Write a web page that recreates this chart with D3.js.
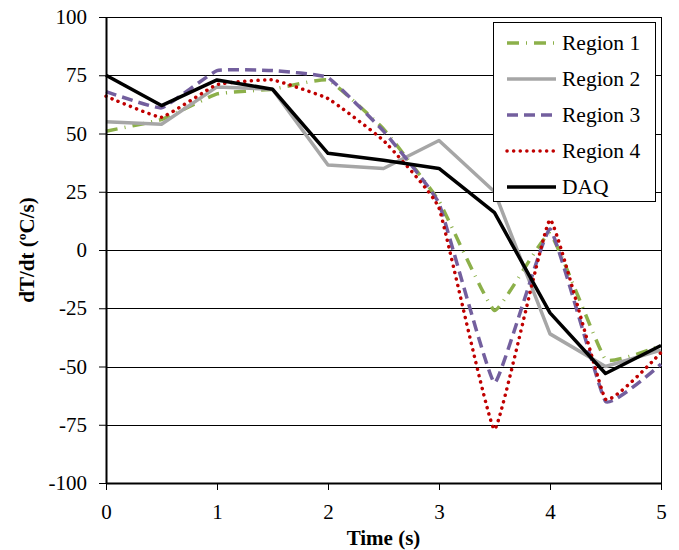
<!DOCTYPE html>
<html><head><meta charset="utf-8">
<script src="https://cdn.jsdelivr.net/npm/d3@7"></script>
<style>body{margin:0;background:#fff} svg text{font-family:"Liberation Serif","Times New Roman",Times,serif}</style>
</head><body>
<script>
const times = [0,0.5,1,1.5,2,2.5,3,3.5,4,4.5,5];
const region1 = [51,56,67,69,73,52,21,-26,7,-47,-41];
const region2 = [55,54,70,69,36.5,35,47,25,-36,-50,-43];
const region3 = [68,61,77,77,74,51,20,-57,9,-65,-49];
const region4 = [66,57,71,73,65,47,18,-77,13,-64,-44];
const daq = [75,62,73,69,41.5,38.5,35,16,-27,-53,-41];
const yTicks = [-100,-75,-50,-25,0,25,50,75,100];
const xTicks = [0,1,2,3,4,5];
const seriesNames = ["Region 1","Region 2","Region 3","Region 4","DAQ"];

const W=679,H=550;
const svg=d3.select("body").append("svg").attr("width",W).attr("height",H);
const x=d3.scaleLinear().domain([0,5]).range([106,661]);
const y=d3.scaleLinear().domain([-100,100]).range([483,17]);

// gridlines
svg.append("g").selectAll("line").data(yTicks.filter(d=>d!==-100)).join("line")
  .attr("x1",x(0)).attr("x2",x(5)).attr("y1",d=>Math.round(y(d))+0.5).attr("y2",d=>Math.round(y(d))+0.5)
  .attr("stroke","#000").attr("stroke-width",1);
// right border
svg.append("line").attr("x1",x(5)+0.5).attr("x2",x(5)+0.5).attr("y1",y(100)).attr("y2",y(-100))
  .attr("stroke","#000").attr("stroke-width",1);

const series=[
  {name:seriesNames[0],vals:region1,color:"#8cb04a",dash:"12 7 1 7",w:3.5,cap:"butt",smooth:true},
  {name:seriesNames[1],vals:region2,color:"#a6a6a6",dash:null,w:3.5,cap:"butt",smooth:false},
  {name:seriesNames[2],vals:region3,color:"#735f9e",dash:"11 6",w:3.5,cap:"butt",smooth:true},
  {name:seriesNames[3],vals:region4,color:"#c00000",dash:"0.1 6.5",w:3.5,cap:"round",smooth:true},
  {name:seriesNames[4],vals:daq,color:"#000",dash:null,w:3.5,cap:"butt",smooth:false}
];

series.forEach(s=>{
  const line=d3.line().x((d,i)=>x(times[i])).y(d=>y(d))
    .curve(s.smooth?d3.curveCardinal.tension(0.7):d3.curveLinear);
  svg.append("path").datum(s.vals).attr("d",line).attr("fill","none")
    .attr("stroke",s.color).attr("stroke-width",s.w)
    .attr("stroke-dasharray",s.dash).attr("stroke-linecap",s.cap)
    .attr("stroke-linejoin","round");
});

// axes
const fmt=d=>String(d);
const yAxis=d3.axisLeft(y).tickValues(yTicks).tickFormat(fmt).tickSize(7).tickSizeOuter(0).tickPadding(12);
const gy=svg.append("g").attr("transform",`translate(${x(0)},0)`).call(yAxis);
const xAxis=d3.axisBottom(x).tickValues(xTicks).tickFormat(fmt).tickSize(7).tickSizeOuter(0).tickPadding(14);
const gx=svg.append("g").attr("transform",`translate(0,${y(-100)})`).call(xAxis);
[gx,gy].forEach(g=>{
  g.attr("font-family",null);
  g.select(".domain").attr("stroke","#000").attr("stroke-width",2);
  g.selectAll(".tick line").attr("stroke","#000").attr("stroke-width",1);
  g.selectAll(".tick text").attr("font-size",21).attr("fill","#000");
});

svg.append("text").attr("x",(x(0)+x(5))/2).attr("y",545).attr("text-anchor","middle")
  .attr("font-size",21).attr("font-weight","bold").text("Time (s)");
svg.append("text").attr("transform",`translate(34,${y(0)}) rotate(-90)`).attr("text-anchor","middle")
  .attr("font-size",21).attr("font-weight","bold").text("dT/dt (ºC/s)");

// legend
const lg=svg.append("g");
lg.append("rect").attr("x",493.5).attr("y",22.5).attr("width",162).attr("height",179)
  .attr("fill","#fff").attr("stroke","#000").attr("stroke-width",1);
series.forEach((s,i)=>{
  const yy=43+i*36;
  lg.append("line").attr("x1",507).attr("x2",556).attr("y1",yy).attr("y2",yy)
    .attr("stroke",s.color).attr("stroke-width",s.w).attr("stroke-dasharray",s.dash)
    .attr("stroke-linecap",s.cap);
  lg.append("text").attr("x",562).attr("y",yy+7).attr("font-size",21.5)
    .attr("fill","#000").text(s.name);
});
</script>
</body></html>
